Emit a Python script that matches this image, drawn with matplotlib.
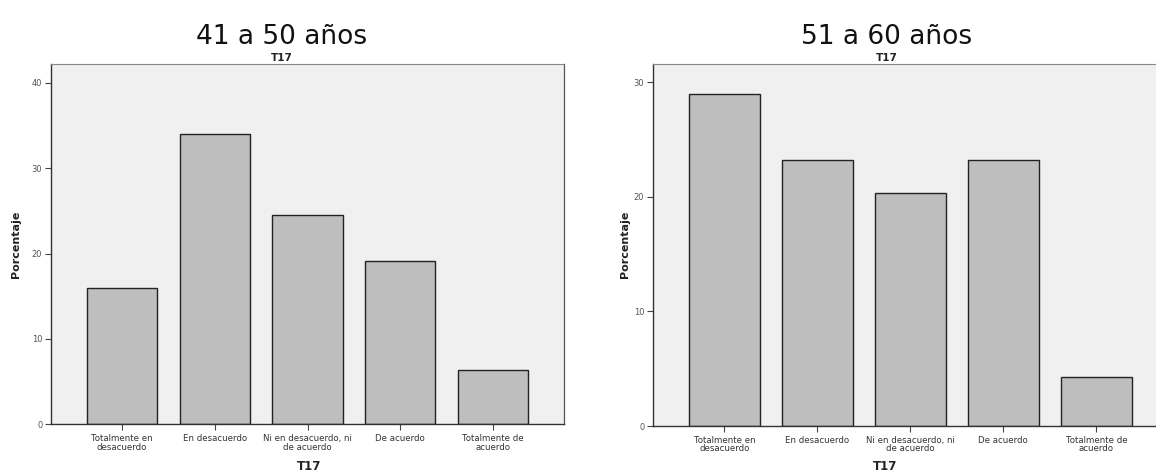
import numpy as np
import matplotlib
matplotlib.use("Agg")
import matplotlib.pyplot as plt

# Response categories for item T17
categories = [
    "Totalmente en\ndesacuerdo",
    "En desacuerdo",
    "Ni en desacuerdo, ni\nde acuerdo",
    "De acuerdo",
    "Totalmente de\nacuerdo",
]

# Percentages by age group
pct_41_50 = [16.0, 34.0, 24.5, 19.1, 6.4]
pct_51_60 = [29.0, 23.2, 20.3, 23.2, 4.3]

groups = ["41 a 50 años", "51 a 60 años"]
yticks_41_50 = [0, 10, 20, 30, 40]
yticks_51_60 = [0, 10, 20, 30]

plt.rcParams["font.family"] = ["DejaVu Sans"]

W, H = 1156, 476
fig = plt.figure(figsize=(W / 100, H / 100), dpi=100)
fig.patch.set_facecolor("white")

BAR_COLOR = "#bebebe"
BG_COLOR = "#f0f0f0"
TEXT_COLOR = "#333333"


def draw_panel(rect, values, yticks, ytop, title, title_x, ylab_x, xlab_x):
    ax = fig.add_axes(rect)
    ax.set_facecolor(BG_COLOR)
    x = np.arange(len(categories))
    ax.bar(x, values, width=0.76, color=BAR_COLOR, edgecolor="#222222",
           linewidth=1.0, zorder=2)
    ax.set_xlim(-0.77, len(categories) - 1 + 0.77)
    ax.set_ylim(0, ytop)
    ax.set_xticks(x)
    ax.set_xticklabels(categories, fontsize=6.2, color=TEXT_COLOR,
                       linespacing=0.95)
    ax.set_yticks(yticks)
    ax.set_yticklabels([str(t) for t in yticks], fontsize=6, color="#555555")
    ax.tick_params(axis="both", length=4, width=0.8, color="#444444", pad=2)
    ax.tick_params(axis="x", pad=3)
    for side in ("left", "bottom"):
        ax.spines[side].set_color("#333333")
        ax.spines[side].set_linewidth(1.0)
    ax.spines["right"].set_color("#555555")
    ax.spines["right"].set_linewidth(0.9)
    ax.spines["top"].set_color("#888888")
    ax.spines["top"].set_linewidth(0.8)
    ax.spines["top"].set_linestyle((0, (1, 1)))

    # Panel heading and variable name
    fig.text(title_x / W, 1 - 44 / H, title, ha="center", va="baseline",
             fontsize=19, color="#111111")
    fig.text(title_x / W, 1 - 61 / H, "T17", ha="center", va="baseline",
             fontsize=7.5, fontweight="bold", color="#222222")
    fig.text(xlab_x / W, 1 - 466 / H, "T17", ha="center", va="center",
             fontsize=8.5, fontweight="bold", color="#222222")
    fig.text(ylab_x / W, 1 - 244 / H, "Porcentaje", ha="center", va="center",
             rotation=90, fontsize=8, fontweight="bold", color="#222222")
    return ax


left_rect = [50.7 / W, 1 - 424.3 / H, (564.3 - 50.7) / W, (424.3 - 64) / H]
right_rect = [652.7 / W, 1 - 426 / H, (1168 - 652.7) / W, (426 - 64) / H]

draw_panel(left_rect, pct_41_50, yticks_41_50, 42.2, groups[0],
           title_x=282, ylab_x=16, xlab_x=309)
draw_panel(right_rect, pct_51_60, yticks_51_60, 31.6, groups[1],
           title_x=887, ylab_x=625, xlab_x=885)

fig.savefig("out.png", dpi=100)
